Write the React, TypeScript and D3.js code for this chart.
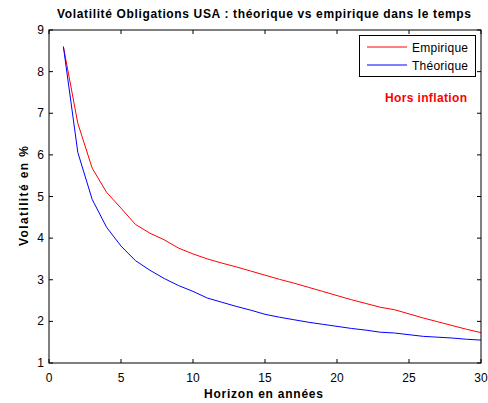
import React from "react";
import * as d3 from "d3";

// Horizon in years
const horizons: number[] = Array.from({ length: 30 }, (_, i) => i + 1);

// Empirical volatility (%) per horizon
const empirique: number[] = [
  8.6, 6.76, 5.68, 5.1, 4.72, 4.33, 4.12, 3.96, 3.76, 3.62,
  3.5, 3.4, 3.31, 3.21, 3.11, 3.01, 2.92, 2.82, 2.72, 2.62,
  2.52, 2.43, 2.34, 2.28, 2.18, 2.08, 1.99, 1.9, 1.81, 1.73,
];

// Theoretical volatility (%) per horizon
const theorique: number[] = [
  8.6, 6.06, 4.93, 4.26, 3.81, 3.46, 3.23, 3.03, 2.86, 2.72,
  2.56, 2.46, 2.36, 2.27, 2.17, 2.1, 2.04, 1.98, 1.93, 1.88,
  1.83, 1.79, 1.74, 1.72, 1.68, 1.64, 1.62, 1.6, 1.57, 1.55,
];

const xTicks: number[] = [0, 5, 10, 15, 20, 25, 30];
const yTicks: number[] = [1, 2, 3, 4, 5, 6, 7, 8, 9];

const seriesNames: string[] = ["Empirique", "Théorique"];
const seriesColors: string[] = ["#ff0000", "#0000ff"];

const W = 488;
const H = 403;
const left = 49;
const right = 481;
const top = 30;
const bottom = 363;
const font = "Arial, 'Liberation Sans', Helvetica, sans-serif";

export default function App() {
  const x = d3.scaleLinear().domain([0, 30]).range([left, right]);
  const y = d3.scaleLinear().domain([1, 9]).range([bottom, top]);
  const line = d3
    .line<[number, number]>()
    .x((d) => x(d[0]))
    .y((d) => y(d[1]));

  const series = [empirique, theorique];
  const tickLen = 4;

  return (
    <svg
      width={W}
      height={H}
      style={{ position: "absolute", left: 0, top: 0, background: "#fff" }}
      fontFamily={font}
    >
      <rect x={0} y={0} width={W} height={H} fill="#fff" />
      {/* title */}
      <text
        x={57}
        y={18}
        fontSize={12}
        fontWeight="bold"
        fill="#000"
        textLength={414}
        lengthAdjust="spacing"
      >
        Volatilité Obligations USA : théorique vs empirique dans le temps
      </text>

      {/* series */}
      {series.map((vals, si) => (
        <path
          key={si}
          d={line(horizons.map((h, i) => [h, vals[i]] as [number, number])) || ""}
          fill="none"
          stroke={seriesColors[si]}
          strokeWidth={1}
        />
      ))}

      {/* box */}
      <rect x={left} y={top} width={right - left} height={bottom - top} fill="none" stroke="#000" strokeWidth={1} />

      {/* x ticks */}
      {xTicks.map((t) => (
        <g key={"x" + t}>
          <line x1={x(t)} x2={x(t)} y1={bottom} y2={bottom - tickLen} stroke="#000" />
          <line x1={x(t)} x2={x(t)} y1={top} y2={top + tickLen} stroke="#000" />
          <text x={x(t)} y={382} textAnchor="middle" fontSize={12} fill="#000">
            {t}
          </text>
        </g>
      ))}

      {/* y ticks */}
      {yTicks.map((t) => (
        <g key={"y" + t}>
          <line x1={left} x2={left + tickLen} y1={y(t)} y2={y(t)} stroke="#000" />
          <line x1={right} x2={right - tickLen} y1={y(t)} y2={y(t)} stroke="#000" />
          <text x={44} y={y(t) + 4} textAnchor="end" fontSize={12} fill="#000">
            {t}
          </text>
        </g>
      ))}

      {/* axis labels */}
      <text
        x={204}
        y={398}
        fontSize={12}
        fontWeight="bold"
        fill="#000"
        textLength={119}
        lengthAdjust="spacing"
      >
        Horizon en années
      </text>
      <text
        transform={`translate(28,246) rotate(-90)`}
        fontSize={12}
        fontWeight="bold"
        fill="#000"
        textLength={100}
        lengthAdjust="spacing"
      >
        Volatilité en %
      </text>

      {/* legend */}
      <rect x={359.5} y={35.5} width={116} height={41} fill="#fff" stroke="#000" strokeWidth={1} />
      {seriesNames.map((name, i) => (
        <g key={name}>
          <line x1={367} x2={407} y1={47 + i * 18} y2={47 + i * 18} stroke={seriesColors[i]} strokeWidth={1} />
          <text x={412} y={51.5 + i * 18} fontSize={12} fill="#000" textLength={56} lengthAdjust="spacing">
            {name}
          </text>
        </g>
      ))}

      {/* annotation */}
      <text
        x={385}
        y={102}
        fontSize={12}
        fontWeight="bold"
        fill="#ff0000"
        textLength={82}
        lengthAdjust="spacing"
      >
        Hors inflation
      </text>
    </svg>
  );
}
